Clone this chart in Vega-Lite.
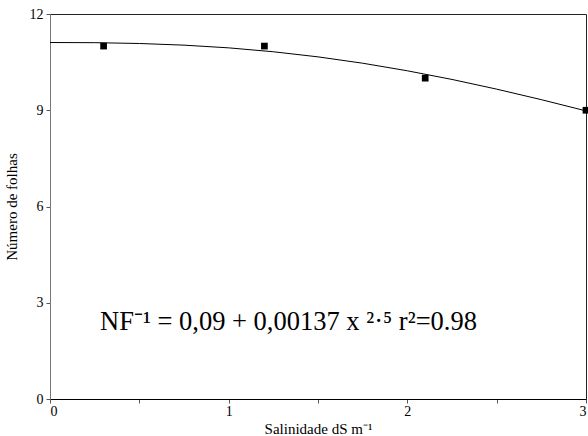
{
  "$schema": "https://vega.github.io/schema/vega-lite/v6.json",
  "autosize": "none",
  "width": 536,
  "height": 385,
  "padding": {"left": 50, "top": 14, "right": 2, "bottom": 37},
  "background": "white",
  "config": {
    "view": {"stroke": "#222", "strokeWidth": 1},
    "font": "Liberation Serif",
    "axis": {"grid": false, "labelFont": "Liberation Serif", "titleFont": "Liberation Serif", "labelFontSize": 14, "titleFontSize": 15, "titleFontWeight": "normal", "labelColor": "#000", "titleColor": "#000", "tickColor": "#555", "tickSize": 4}
  },
  "datasets": {
    "curve": [
      {"x": 0, "y": 11.111}, {"x": 0.25, "y": 11.106}, {"x": 0.5, "y": 11.081}, {"x": 0.75, "y": 11.029},
      {"x": 1, "y": 10.945}, {"x": 1.25, "y": 10.823}, {"x": 1.5, "y": 10.664}, {"x": 1.75, "y": 10.466},
      {"x": 2, "y": 10.23}, {"x": 2.25, "y": 9.96}, {"x": 2.5, "y": 9.658}, {"x": 2.75, "y": 9.33}, {"x": 3, "y": 8.98}
    ],
    "obs": [
      {"x": 0.3, "y": 11.0}, {"x": 1.2, "y": 11.0}, {"x": 2.1, "y": 10.0}, {"x": 3.0, "y": 9.0}
    ],
    "label": [
      {"x": 0.28, "y": 2.15, "t": "NF⁻¹ = 0,09 + 0,00137 x ²·⁵ r²=0.98"}
    ]
  },
  "layer": [
    {
      "data": {"name": "curve"},
      "mark": {"type": "line", "color": "#000", "strokeWidth": 1, "clip": true},
      "encoding": {
        "x": {"field": "x", "type": "quantitative", "scale": {"domain": [0, 3], "nice": false, "zero": false},
          "axis": {"title": "Salinidade dS m⁻¹", "values": [0, 0.5, 1, 1.5, 2, 2.5, 3], "labelExpr": "datum.value % 1 == 0 ? format(datum.value, 'd') : ''", "domainColor": "#000", "labelPadding": 1, "titlePadding": 3}},
        "y": {"field": "y", "type": "quantitative", "scale": {"domain": [0, 12], "nice": false},
          "axis": {"title": "Número de folhas", "values": [0, 3, 6, 9, 12], "domainColor": "#777", "labelPadding": 3, "titlePadding": 10}}
      }
    },
    {
      "data": {"name": "obs"},
      "mark": {"type": "square", "color": "#000", "opacity": 1, "size": 45, "clip": false},
      "encoding": {
        "x": {"field": "x", "type": "quantitative"},
        "y": {"field": "y", "type": "quantitative"}
      }
    },
    {
      "data": {"name": "label"},
      "mark": {"type": "text", "align": "left", "baseline": "alphabetic", "font": "Liberation Serif", "fontSize": 26.5, "color": "#000"},
      "encoding": {
        "x": {"field": "x", "type": "quantitative"},
        "y": {"field": "y", "type": "quantitative"},
        "text": {"field": "t"}
      }
    }
  ]
}
